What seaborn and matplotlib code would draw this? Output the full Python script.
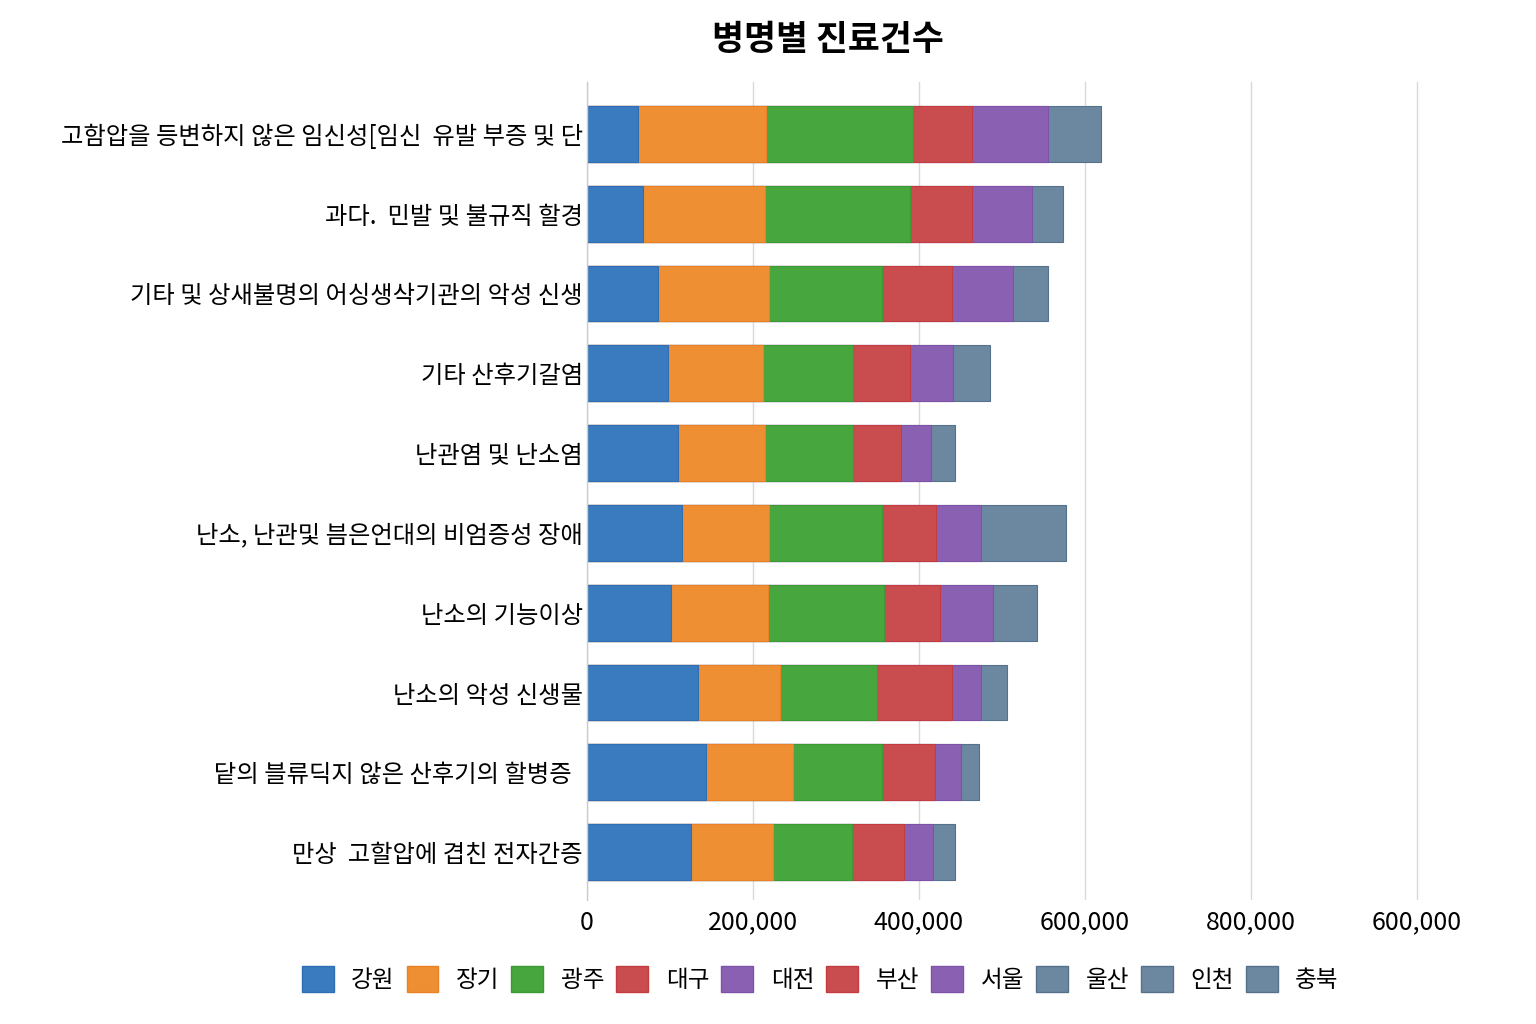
import numpy as np
import pandas as pd
import matplotlib
matplotlib.use("Agg")
import matplotlib.pyplot as plt
from matplotlib.patches import Patch
import seaborn as sns

# 병명 (top to bottom)
diseases = [
    "고함압을 등변하지 않은 임신성[임신  유발 부증 및 단",
    "과다.  민발 및 불규직 할경",
    "기타 및 상새불명의 어싱생삭기관의 악성 신생",
    "기타 산후기갈염",
    "난관염 및 난소염",
    "난소, 난관및 븜은언대의 비엄증성 장애",
    "난소의 기능이상",
    "난소의 악성 신생물",
    "닽의 블류딕지 않은 산후기의 할병증  ",
    "만상  고할압에 겹친 전자간증",
]

# series values per region (visible stacked segments)
gangwon = [61500, 68000, 85000, 97000, 110000, 114000, 101000, 134000, 143000, 125000]
janggi = [153800, 147000, 134000, 115000, 105000, 105000, 117000, 98000, 105000, 99000]
gwangju = [178000, 174000, 136000, 109000, 105000, 136000, 140000, 117000, 107000, 95000]
daegu = [70500, 75000, 85000, 68000, 58000, 66000, 67000, 91000, 65000, 63000]
daejeon = [92000, 72500, 74000, 52000, 36000, 54000, 64000, 35000, 31000, 35000]
ulsan = [64000, 37000, 42000, 45000, 30000, 102000, 53000, 31000, 22000, 27000]

series = ["강원", "장기", "광주", "대구", "대전", "울산"]
series_vals = [gangwon, janggi, gwangju, daegu, daejeon, ulsan]
series_colors = ["#3a7bbf", "#ef8f33", "#48a63f", "#c94c4f", "#8a61b2", "#6c88a0"]
edge_colors = ["#2f6db5", "#eb8024", "#3a9a36", "#c43c40", "#7d52a8", "#56718c"]

legend_labels = ["강원", "장기", "광주", "대구", "대전", "부산", "서울", "울산", "인천", "충북"]
legend_colors = ["#3a7bbf", "#ef8f33", "#48a63f", "#c94c4f", "#8a61b2",
                 "#c94c4f", "#8a61b2", "#6c88a0", "#6c88a0", "#6c88a0"]
legend_edges = ["#2f6db5", "#eb8024", "#3a9a36", "#c43c40", "#7d52a8",
                "#c43c40", "#7d52a8", "#56718c", "#56718c", "#56718c"]

xticks = [0, 200000, 400000, 600000, 800000, 1000000]
xtick_labels = ["0", "200,000", "400,000", "600,000", "800,000", "600,000"]

sns.set_theme(style="whitegrid")
plt.rcParams["font.family"] = ["Noto Sans CJK KR", "DejaVu Sans"]
plt.rcParams["text.color"] = "black"
plt.rcParams["xtick.color"] = "black"
plt.rcParams["ytick.color"] = "black"

df = pd.DataFrame(dict(zip(series, series_vals)), index=diseases)
cum = df.cumsum(axis=1)

fig = plt.figure(figsize=(15.36, 10.24), dpi=100)
ax = fig.add_axes([0.3822, 0.1211, 0.5833, 0.7988])

# stacked bars: draw cumulative totals from the largest down
for name, color, ec in reversed(list(zip(series, series_colors, edge_colors))):
    sns.barplot(x=cum[name].values, y=diseases, orient="h", color=color,
                edgecolor=ec, linewidth=0.8, width=0.7, saturation=1, ax=ax)

ax.set_xlim(0, 1080000)
ax.set_ylim(9.6, -0.65)
ax.set_xticks(xticks)
ax.set_xticklabels(xtick_labels, fontsize=18)
ax.tick_params(axis="y", labelsize=17.5, length=0, pad=3)
ax.tick_params(axis="x", length=0, pad=7)
ax.set_xlabel("")
ax.set_ylabel("")
ax.grid(axis="x", color="#d9d9d9", linewidth=1)
ax.grid(axis="y", visible=False)
for s in ["top", "right", "bottom"]:
    ax.spines[s].set_visible(False)
ax.spines["left"].set_color("#cccccc")
ax.spines["left"].set_linewidth(1)

fig.text(0.539, 0.961, "병명별 진료건수", ha="center", va="center",
         fontsize=25, fontweight="bold")

handles = [Patch(facecolor=c, edgecolor=e, linewidth=1) for c, e in zip(legend_colors, legend_edges)]
fig.legend(handles, legend_labels, loc="center", bbox_to_anchor=(0.534, 0.044),
           ncol=10, frameon=False, fontsize=17, handlelength=1.35, handleheight=1.3,
           handletextpad=0.75, columnspacing=0.5)

fig.savefig("out.png", dpi=100)
